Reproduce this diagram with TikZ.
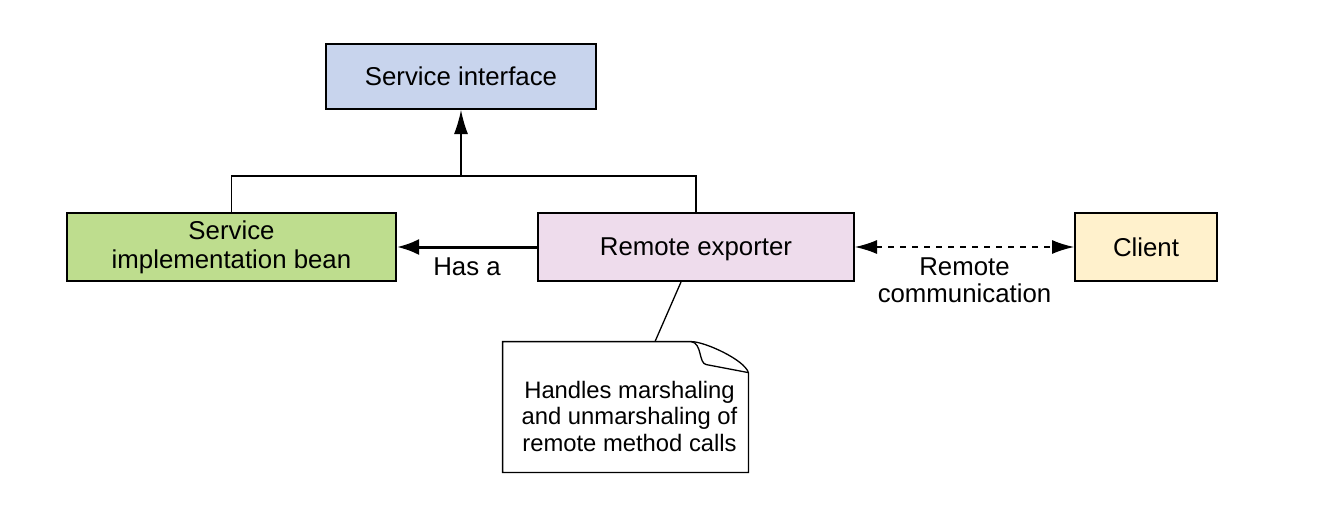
\documentclass[tikz,border=0pt]{standalone}
\usepackage{fontspec}
\setmainfont{Liberation Sans}
\usetikzlibrary{arrows.meta}

\definecolor{ifaceblue}{RGB}{200,212,237}
\definecolor{implgreen}{RGB}{190,221,142}
\definecolor{exportpink}{RGB}{238,220,236}
\definecolor{clientyellow}{RGB}{255,241,204}

\tikzset{
  box/.style={draw, line width=1pt, minimum height=34pt},
  link/.style={line width=0.65pt},
}

\begin{document}
\begin{tikzpicture}[x=0.5pt, y=-0.5pt,
    every node/.style={font=\fontsize{12.9}{14.5}\selectfont, align=center, inner sep=0pt}]
            \useasboundingbox (0,0) rectangle (1341,505);

            % boxes
            \node[box, fill=ifaceblue, minimum width=135pt, minimum height=32.5pt] (iface) at (461,76.5) {Service interface};
            \node[box, fill=implgreen, minimum width=164.5pt] (impl) at (231.5,247) {Service\\implementation bean};
            \node[box, fill=exportpink, minimum width=158pt, text depth=0pt] (exporter) at (696,247) {Remote exporter};
            \node[box, fill=clientyellow, minimum width=71pt] (client) at (1146,247) {Client};

            % inheritance fork
            \coordinate (fork) at (461,176);
            \draw[link] (impl.north) |- (fork) -| (exporter.north);
            \draw[link, -{Latex[length=12pt, width=7pt]}] (fork) -- (iface.south);

            \draw[line width=1.5pt, -{Latex[length=11pt, width=8pt]}] (exporter.west) -- (impl.east)
                node[midway, below=4.5pt] (hasa) {Has a};
            \draw[link, dashed, {Latex[length=11pt, width=7pt]}-{Latex[length=11pt, width=7pt]}] (exporter.east) -- (client.west)
                node[midway, below=5pt, font=\fontsize{12.9}{13.6}\selectfont] (remote) {Remote\\communication};

            % note
            \node[minimum width=122.5pt, minimum height=65pt] (note) at (625.5,407) {};
            \node[font=\fontsize{11.9}{13.25}\selectfont] (notetext) at ([xshift=2pt, yshift=-4.5pt]note.center) {Handles marshaling\\and unmarshaling of\\remote method calls};
            \draw[link] ([xshift=-7.5pt]exporter.south) -- ([xshift=14.75pt]note.north);
            \draw[link] (note.south west) -- (note.north west) -- ([xshift=-28.5pt]note.north east)
                .. controls ([xshift=-22pt]note.north east) and ([xshift=-2pt, yshift=-9pt]note.north east) .. ([yshift=-15.5pt]note.north east)
                -- (note.south east) -- cycle;
            \draw[link] ([xshift=-28.5pt]note.north east)
                .. controls ([xshift=-23pt, yshift=-1pt]note.north east) and ([xshift=-25pt, yshift=-11pt]note.north east) .. ([xshift=-21pt, yshift=-11.5pt]note.north east)
                -- ([yshift=-15.5pt]note.north east);
        \end{tikzpicture}
\end{document}
